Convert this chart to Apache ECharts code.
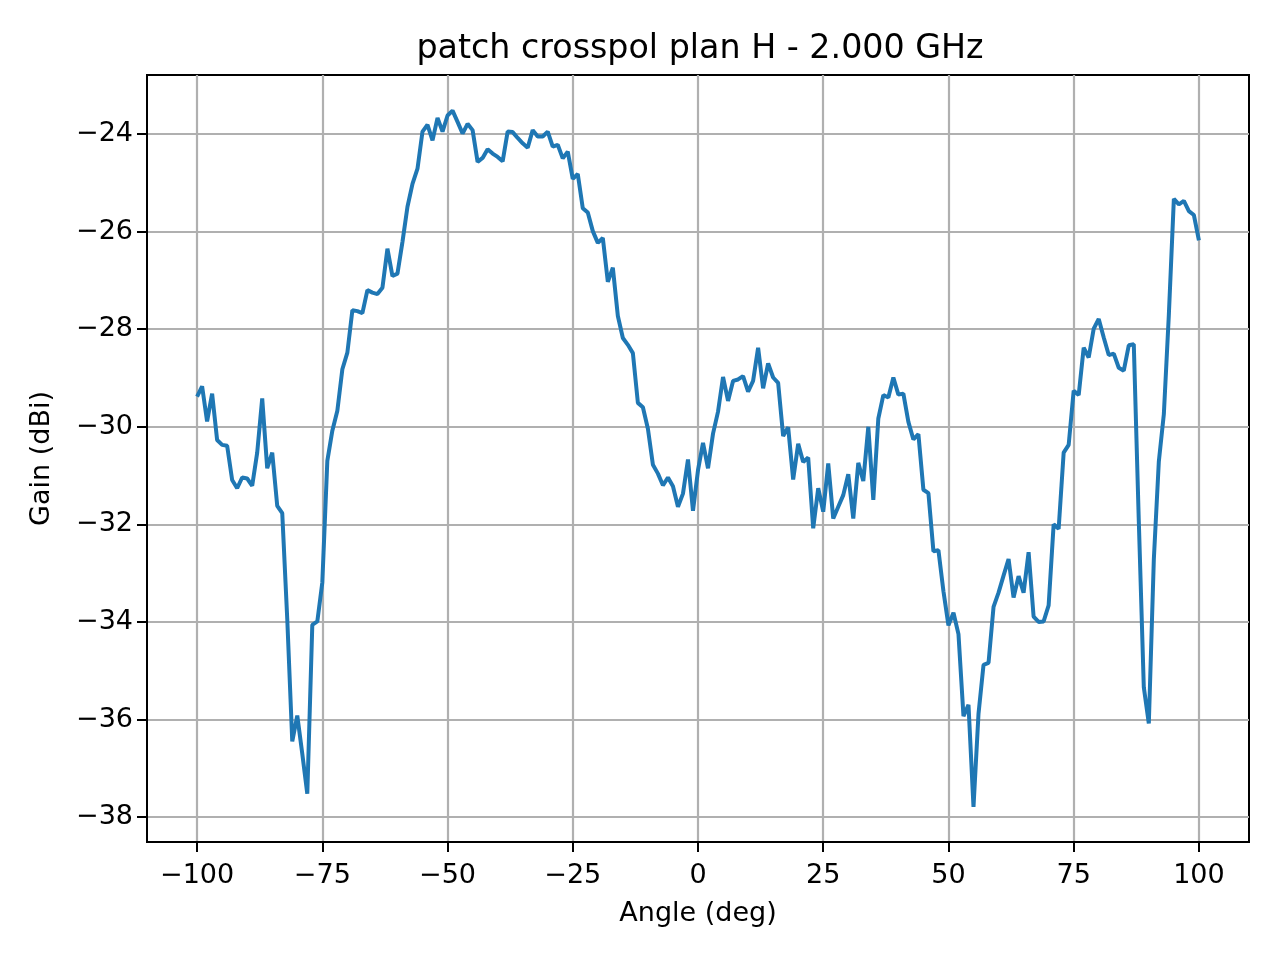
<!DOCTYPE html>
<html>
<head>
<meta charset="utf-8">
<script src="https://cdn.jsdelivr.net/npm/echarts@6/dist/echarts.min.js"></script>
<style>
  html, body { margin: 0; padding: 0; background: #fff; }
  #chart { width: 1280px; height: 960px; }
</style>
</head>
<body>
<div id="chart"></div>
<script>
'use strict'

const title = 'patch crosspol plan H - 2.000 GHz'
const xName = 'Angle (deg)'
const yName = 'Gain (dBi)'

// angle samples (deg)
const angles = [
  -100, -99, -98, -97, -96, -95, -94, -93, -92, -91,
  -90, -89, -88, -87, -86, -85, -84, -83, -82, -81,
  -80, -79, -78, -77, -76, -75, -74, -73, -72, -71,
  -70, -69, -68, -67, -66, -65, -64, -63, -62, -61,
  -60, -59, -58, -57, -56, -55, -54, -53, -52, -51,
  -50, -49, -48, -47, -46, -45, -44, -43, -42, -41,
  -40, -39, -38, -37, -36, -35, -34, -33, -32, -31,
  -30, -29, -28, -27, -26, -25, -24, -23, -22, -21,
  -20, -19, -18, -17, -16, -15, -14, -13, -12, -11,
  -10, -9, -8, -7, -6, -5, -4, -3, -2, -1,
  0, 1, 2, 3, 4, 5, 6, 7, 8, 9,
  10, 11, 12, 13, 14, 15, 16, 17, 18, 19,
  20, 21, 22, 23, 24, 25, 26, 27, 28, 29,
  30, 31, 32, 33, 34, 35, 36, 37, 38, 39,
  40, 41, 42, 43, 44, 45, 46, 47, 48, 49,
  50, 51, 52, 53, 54, 55, 56, 57, 58, 59,
  60, 61, 62, 63, 64, 65, 66, 67, 68, 69,
  70, 71, 72, 73, 74, 75, 76, 77, 78, 79,
  80, 81, 82, 83, 84, 85, 86, 87, 88, 89,
  90, 91, 92, 93, 94, 95, 96, 97, 98, 99,
  100
]

// gain (dBi)
const gains = [
  -29.38, -29.17, -29.89, -29.32, -30.27, -30.37, -30.39, -31.09, -31.26, -31.04,
  -31.06, -31.21, -30.53, -29.42, -30.85, -30.53, -31.62, -31.77, -33.94, -36.45,
  -35.92, -36.70, -37.52, -34.06, -33.99, -33.19, -30.70, -30.08, -29.67, -28.82,
  -28.48, -27.61, -27.63, -27.67, -27.20, -27.25, -27.28, -27.15, -26.35, -26.91,
  -26.86, -26.21, -25.49, -25.02, -24.71, -23.95, -23.81, -24.13, -23.67, -23.95,
  -23.62, -23.52, -23.75, -23.99, -23.79, -23.92, -24.57, -24.49, -24.31, -24.40,
  -24.47, -24.56, -23.95, -23.96, -24.08, -24.19, -24.28, -23.92, -24.05, -24.05,
  -23.95, -24.26, -24.22, -24.50, -24.36, -24.92, -24.82, -25.52, -25.61, -25.99,
  -26.23, -26.13, -27.03, -26.74, -27.73, -28.18, -28.32, -28.49, -29.51, -29.60,
  -30.04, -30.78, -30.96, -31.20, -31.04, -31.22, -31.64, -31.37, -30.67, -31.72,
  -30.89, -30.33, -30.85, -30.14, -29.69, -28.98, -29.47, -29.06, -29.03, -28.96,
  -29.28, -29.06, -28.38, -29.21, -28.70, -28.99, -29.10, -30.19, -30.01, -31.08,
  -30.35, -30.72, -30.63, -32.08, -31.26, -31.74, -30.75, -31.88, -31.64, -31.40,
  -30.97, -31.88, -30.74, -31.11, -30.00, -31.50, -29.83, -29.35, -29.40, -28.99,
  -29.34, -29.32, -29.90, -30.26, -30.15, -31.29, -31.36, -32.55, -32.53, -33.37,
  -34.07, -33.81, -34.25, -35.93, -35.70, -37.79, -35.88, -34.88, -34.84, -33.69,
  -33.40, -33.05, -32.71, -33.50, -33.06, -33.40, -32.57, -33.89, -34.00, -33.99,
  -33.66, -32.00, -32.09, -30.53, -30.37, -29.26, -29.35, -28.38, -28.58, -27.99,
  -27.79, -28.17, -28.53, -28.50, -28.79, -28.85, -28.33, -28.31, -31.93, -35.34,
  -36.08, -32.72, -30.71, -29.74, -27.70, -25.33, -25.44, -25.37, -25.58, -25.66,
  -26.18
]

const xTicks = [-100, -75, -50, -25, 0, 25, 50, 75, 100]
const yTicks = [-38, -36, -34, -32, -30, -28, -26, -24]

const FONT = 'DejaVu Sans'
const GRID_COLOR = '#b0b0b0'
const LINE_COLOR = '#1f77b4'

// matplotlib style minus sign
const fmt = v => String(v).replace('-', '\u2212')

const chart = echarts.init(document.getElementById('chart'), null, { renderer: 'canvas' })

const axisCommon = {
  type: 'value',
  nameLocation: 'middle',
  nameTextStyle: { fontFamily: FONT, fontSize: 27, color: '#000' },
  axisLine: { show: true, onZero: false, lineStyle: { color: '#000', width: 2 } },
  axisTick: { show: true, inside: false, length: 10, lineStyle: { color: '#000', width: 2 } },
  axisLabel: { fontFamily: FONT, fontSize: 27, color: '#000', formatter: fmt, showMinLabel: true, showMaxLabel: true },
  splitLine: { show: true, lineStyle: { color: GRID_COLOR, width: 2.2 } }
}

const option = {
  backgroundColor: '#fff',
  animation: false,
  title: {
    text: title,
    left: 695,
    top: 28,
    textAlign: 'center',
    textStyle: { fontFamily: FONT, fontSize: 33.3, fontWeight: 'normal', color: '#000' }
  },
  grid: {
    left: 147,
    right: 31,
    top: 75,
    bottom: 118,
    show: true,
    borderColor: '#000',
    borderWidth: 2,
    backgroundColor: 'transparent'
  },
  xAxis: {
    ...axisCommon,
    name: xName,
    nameGap: 58,
    min: -110,
    max: 110,
    axisTick: { ...axisCommon.axisTick, customValues: xTicks },
    axisLabel: { ...axisCommon.axisLabel, margin: 20, customValues: xTicks }
  },
  yAxis: {
    ...axisCommon,
    name: yName,
    nameGap: 92,
    min: -38.51,
    max: -22.79,
    axisTick: { ...axisCommon.axisTick, customValues: yTicks },
    axisLabel: { ...axisCommon.axisLabel, margin: 14, customValues: yTicks }
  },
  series: [{
    type: 'line',
    data: angles.map((a, i) => [a, gains[i]]),
    showSymbol: false,
    symbol: 'none',
    lineStyle: { color: LINE_COLOR, width: 4 },
    z: 5
  }]
}

chart.setOption(option)
</script>
</body>
</html>
